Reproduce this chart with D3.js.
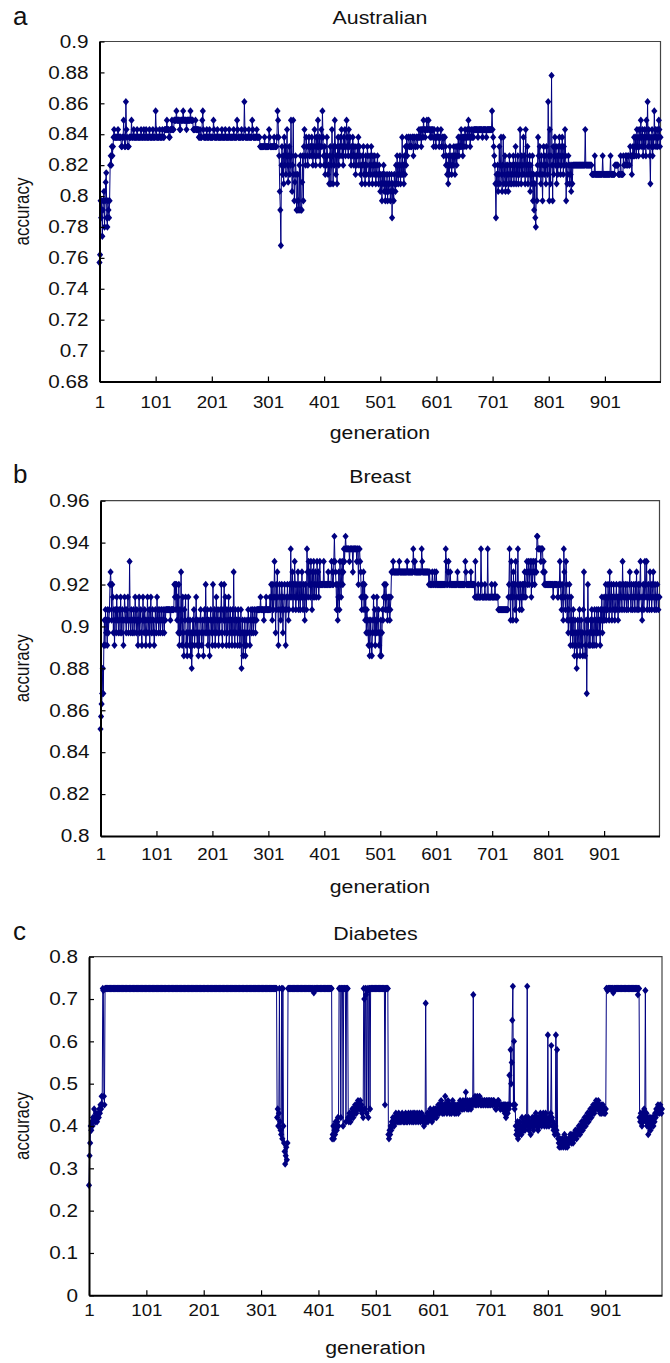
<!DOCTYPE html>
<html>
<head>
<meta charset="utf-8">
<script src="https://cdn.jsdelivr.net/npm/d3@7"></script>
<style>
  html, body { margin: 0; padding: 0; background: #fff; }
  svg { display: block; font-family: "Liberation Sans", Arial, sans-serif; }
</style>
</head>
<body>
<svg id="chart" width="670" height="1363"></svg>
<script>
// Generation axis: 1..1000, labelled every 100 generations.
const generationCount = 1000;
const generationTickValues = [1, 101, 201, 301, 401, 501, 601, 701, 801, 901];
const generationTickLabels = ["1", "101", "201", "301", "401", "501", "601", "701", "801", "901"];

// Accuracy tick values and labels for each dataset.
const australianTickValues = [0.68, 0.70, 0.72, 0.74, 0.76, 0.78, 0.80, 0.82, 0.84, 0.86, 0.88, 0.90];
const australianTickLabels = ["0.68", "0.7", "0.72", "0.74", "0.76", "0.78", "0.8", "0.82", "0.84", "0.86", "0.88", "0.9"];
const breastTickValues = [0.80, 0.82, 0.84, 0.86, 0.88, 0.90, 0.92, 0.94, 0.96];
const breastTickLabels = ["0.8", "0.82", "0.84", "0.86", "0.88", "0.9", "0.92", "0.94", "0.96"];
const diabetesTickValues = [0, 0.1, 0.2, 0.3, 0.4, 0.5, 0.6, 0.7, 0.8];
const diabetesTickLabels = ["0", "0.1", "0.2", "0.3", "0.4", "0.5", "0.6", "0.7", "0.8"];

// Best accuracy per generation, stored as steps: [first generation, accuracy].
// Each value holds until the next listed generation.
const australianSteps = [
[1,.757],[2,.762],[3,.797],[4,.786],[5,.797],[6,.774],[7,.791],[8,.797],[9,.803],[10,.780],[11,.797],[12,.809],[13,.815],[14,.786],[15,.780],[16,.797],[17,.791],[18,.786],[19,.797],[20,.820],[21,.826],[22,.820],[23,.832],[24,.826],[25,.832],[26,.838],[27,.843],[28,.838],
[34,.843],[35,.838],[40,.832],[42,.838],[44,.849],[45,.838],[46,.832],[48,.861],[49,.843],[50,.838],[51,.832],[54,.838],[58,.849],[59,.838],[62,.843],[63,.838],[68,.843],[69,.838],[75,.843],[76,.838],[80,.843],[81,.838],[84,.843],[85,.838],[90,.843],[91,.838],[96,.843],[97,.838],[101,.855],[102,.843],[103,.838],[108,.843],[109,.838],[113,.843],[114,.838],[117,.843],
[118,.843],[121,.849],[122,.843],[125,.838],[127,.843],[130,.849],[131,.843],[134,.849],[138,.855],[139,.849],[144,.843],[146,.849],[150,.855],[151,.849],[156,.843],[157,.849],[163,.855],[164,.849],[168,.843],[172,.849],[173,.843],[178,.838],[180,.843],[181,.838],[184,.849],[185,.855],[186,.843],[187,.838],
[192,.843],[193,.838],[197,.843],[198,.838],[204,.849],[205,.843],[206,.838],[211,.843],[212,.838],[219,.843],[220,.838],[225,.843],[226,.838],[232,.843],[233,.838],[240,.843],[241,.838],[246,.849],[247,.843],[248,.838],[254,.843],[255,.838],[259,.861],[260,.843],[261,.838],[267,.843],[268,.838],[273,.849],[274,.843],[275,.838],[281,.843],[282,.838],
[287,.832],[295,.838],[296,.832],[303,.843],[304,.838],[305,.832],[312,.838],[313,.832],
[317,.838],[318,.855],[319,.849],[320,.838],[321,.826],[322,.803],[323,.791],[324,.768],[325,.820],[326,.832],[327,.814],[328,.826],[329,.808],[330,.838],[331,.820],[332,.832],[333,.814],[334,.826],[335,.843],[336,.820],[337,.809],[338,.826],[339,.832],[340,.814],[341,.820],[342,.849],[343,.826],[344,.803],[345,.820],[346,.849],[347,.814],[348,.797],[349,.809],[350,.826],[351,.814],[352,.791],[353,.791],[354,.814],[355,.797],[356,.791],[357,.820],[358,.791],[359,.826],[360,.791],[362,.809],[363,.826],[364,.797],[365,.832],[366,.843],[367,.826],[368,.820],[369,.838],[370,.832],[371,.826],[372,.820],[373,.832],[374,.838],[375,.826],
[376,.832],[378,.826],[379,.838],[380,.832],[381,.820],[382,.832],[383,.826],[384,.843],[385,.832],[386,.820],[387,.838],[388,.826],[389,.832],[390,.849],[391,.832],[392,.826],[393,.838],[394,.820],[395,.832],[396,.843],[397,.832],[398,.855],[399,.838],[400,.826],[401,.820],[402,.832],[403,.814],[404,.826],[405,.820],[406,.838],[407,.826],[408,.814],[409,.820],[410,.808],[411,.826],[412,.832],[413,.808],[414,.820],[415,.843],[416,.826],[417,.808],[418,.832],[419,.820],[420,.849],[421,.832],[422,.814],[423,.826],[424,.808],[425,.832],[426,.838],[427,.820],[428,.832],[429,.826],[430,.838],[431,.832],[432,.843],[433,.826],[434,.832],[435,.820],[436,.838],[437,.832],[438,.843],[439,.826],[440,.832],[441,.849],[442,.838],[443,.832],[444,.826],[445,.843],[446,.832],[447,.838],[448,.826],[449,.820],[450,.832],[451,.826],[452,.838],[453,.832],[454,.820],[455,.826],[456,.832],[457,.814],[458,.826],[459,.820],[460,.832],[461,.826],[462,.838],[463,.820],[464,.832],[465,.826],[466,.814],[467,.820],[468,.808],[469,.826],[470,.820],[471,.832],[472,.814],[473,.820],[474,.808],[475,.826],[476,.814],[477,.820],[478,.832],[479,.826],[480,.814],[481,.808],[482,.820],[483,.826],[484,.814],[485,.832],[486,.820],[487,.808],[488,.826],[489,.820],[490,.814],[491,.826],[492,.820],[493,.808],[494,.814],[495,.820],[496,.826],[497,.814],[498,.808],[499,.820],[500,.814],[501,.803],[502,.814],[503,.808],[504,.797],[505,.814],[506,.808],[507,.820],[508,.803],[509,.814],[510,.797],[511,.808],[512,.803],[513,.814],[514,.797],[515,.808],[516,.803],[517,.814],[518,.808],[519,.797],[520,.803],[521,.814],[522,.786],[523,.808],[524,.803],[525,.797],[526,.814],[527,.808],[528,.803],[529,.820],[530,.808],[531,.826],[532,.814],[533,.808],[534,.820],[535,.814],[536,.826],[537,.808],[538,.820],[539,.814],[540,.838],[541,.814],[542,.820],[543,.808],[544,.826],[545,.814],[546,.832],[547,.820],[548,.838],[549,.826],[550,.832],
[551,.838],[553,.832],[555,.838],[556,.832],[558,.838],[560,.826],[561,.838],[563,.832],[565,.838],[567,.832],[568,.838],[570,.843],[571,.838],[573,.843],[574,.832],[575,.843],[577,.838],[578,.849],[579,.843],[581,.838],[582,.843],[584,.849],[585,.843],[587,.849],[588,.843],[590,.838],[591,.843],[593,.838],[594,.843],[596,.832],[597,.843],[598,.838],[600,.832],[601,.838],[603,.843],[604,.838],[606,.832],[607,.838],[609,.843],[610,.832],[612,.838],[614,.826],[615,.838],[617,.832],[618,.820],
[619,.826],[620,.814],[621,.820],[622,.808],[623,.826],[624,.814],[625,.832],[626,.820],[627,.826],[628,.814],[629,.820],[630,.826],[631,.820],[632,.832],[633,.826],[634,.814],[635,.826],[636,.832],[637,.820],[638,.826],[639,.832],[640,.838],[641,.826],[642,.832],[643,.838],[644,.832],[645,.843],[646,.832],[647,.838],[648,.826],[649,.838],[650,.832],[651,.838],[652,.843],[653,.838],[654,.832],[655,.838],[656,.843],[657,.838],[658,.849],[659,.838],[660,.843],[661,.832],[662,.838],[663,.843],[664,.838],[666,.843],[667,.838],[668,.843],
[675,.838],[676,.843],[683,.838],[684,.843],[690,.838],[691,.843],[700,.855],[701,.843],[702,.838],[703,.832],[704,.826],[705,.820],[706,.808],[707,.786],
[708,.814],[709,.808],[710,.820],[711,.803],[712,.814],[713,.832],[714,.808],[715,.820],[716,.838],[717,.814],[718,.803],[719,.820],[720,.838],[721,.808],[722,.814],[723,.826],[724,.803],[725,.820],[726,.808],[727,.814],[728,.820],[729,.803],[730,.814],[731,.826],[732,.808],[733,.820],[734,.814],[735,.808],[736,.820],[737,.814],[738,.826],[739,.808],[740,.820],[741,.814],[742,.832],[743,.808],[744,.820],[745,.814],[746,.826],[747,.808],[748,.820],[749,.814],[750,.843],
[751,.820],[752,.808],[753,.826],[754,.814],[755,.820],[756,.838],[757,.814],[758,.826],[759,.808],[760,.843],[761,.820],[762,.814],[763,.832],[764,.808],[765,.820],[766,.814],[767,.826],[768,.803],[769,.820],[770,.814],[771,.808],[772,.826],[773,.797],[774,.814],[775,.791],[776,.808],[777,.786],[778,.780],[779,.814],[780,.797],[781,.820],[782,.838],[783,.826],[784,.814],[785,.832],[786,.820],[787,.808],[788,.826],[789,.814],[790,.797],[791,.820],[792,.832],[793,.814],[794,.826],[795,.820],[796,.808],[797,.832],[798,.820],[799,.814],[800,.861],[801,.826],[802,.797],[803,.843],[804,.808],[805,.826],[806,.878],[807,.820],[808,.797],[809,.832],[810,.814],
[811,.826],[812,.838],[813,.820],[814,.832],[815,.808],[816,.826],[817,.814],[818,.832],[819,.820],[820,.838],[821,.826],[822,.814],[823,.832],[824,.820],[825,.838],[826,.826],[827,.814],[828,.832],[829,.820],[830,.843],[831,.826],[832,.797],[833,.820],[834,.808],[835,.814],[836,.826],[837,.820],[838,.808],[839,.820],[840,.814],[841,.803],[842,.820],[843,.808],[844,.820],
[866,.843],[867,.820],[878,.814],
[883,.826],[884,.814],[897,.826],[898,.814],[911,.826],[912,.814],[919,.820],[925,.814],[929,.826],[930,.814],[934,.826],[935,.820],[938,.826],[940,.820],[942,.826],[944,.820],[946,.832],[947,.826],[949,.814],[950,.826],[951,.832],[952,.826],[953,.838],[954,.826],[955,.832],[956,.838],[957,.826],[958,.843],[959,.832],[960,.838],[961,.826],[962,.843],[963,.832],[964,.838],[965,.849],[966,.838],[967,.832],[968,.843],[969,.826],[970,.838],[971,.832],[972,.843],[973,.838],[974,.826],[975,.849],[976,.838],[977,.861],[978,.832],[979,.843],[980,.838],[981,.826],[982,.808],[983,.838],[984,.832],[985,.843],[986,.826],[987,.838],[988,.832],[989,.855],[990,.838],[991,.843],[992,.832],[993,.838],[994,.843],[995,.832],[996,.838],[997,.849],[998,.843],[999,.832],[1000,.838]
];

const breastSteps = [
[1,.851],[2,.857],[3,.863],[4,.868],[5,.880],[6,.868],[7,.891],[8,.903],[9,.891],[10,.908],[11,.897],[12,.903],[13,.891],[14,.908],[15,.897],[16,.903],[17,.908],[18,.920],[19,.926],[20,.920],[21,.903],[22,.920],[23,.914],[24,.897],[25,.908],[26,.891],[27,.903],[28,.908],[29,.897],[30,.914],[31,.903],[32,.908],[33,.897],[34,.903],[35,.908],[36,.897],[37,.914],[38,.903],[39,.897],[40,.908],[41,.903],[42,.891],[43,.903],[44,.914],[45,.908],[46,.903],[47,.897],[48,.908],[49,.903],[50,.914],[51,.897],[52,.903],[53,.931],[54,.903],
[55,.897],[56,.908],[57,.903],[58,.897],[59,.903],[60,.908],[61,.897],[62,.903],[63,.914],[64,.903],[65,.897],[66,.908],[67,.903],[68,.891],[69,.903],[70,.914],[71,.897],[72,.903],[73,.908],[74,.897],[75,.891],[76,.903],[77,.914],[78,.903],[79,.897],[80,.908],[81,.903],[82,.891],[83,.897],[84,.903],[85,.914],[86,.897],[87,.903],[88,.908],[89,.891],[90,.903],[91,.914],[92,.897],[93,.903],[94,.908],[95,.897],[96,.903],[97,.891],[98,.897],[99,.908],[100,.903],[101,.897],[102,.914],[103,.903],[104,.908],[105,.897],[106,.903],[107,.908],[108,.897],[109,.903],[110,.908],[111,.903],[112,.897],[113,.908],[114,.903],[115,.897],[116,.908],[117,.903],[118,.908],
[126,.903],[127,.908],
[133,.920],[134,.914],[135,.920],[136,.908],[137,.920],[138,.903],[139,.914],[140,.897],[141,.920],[142,.891],[143,.908],[144,.897],[145,.926],[146,.903],
[147,.891],[148,.914],[149,.897],[150,.886],[151,.908],[152,.903],[153,.914],[154,.891],[155,.897],[156,.886],[157,.903],[158,.914],[159,.897],[160,.891],[161,.903],[162,.886],[163,.897],[164,.880],[165,.891],[166,.903],[167,.897],
[168,.908],[169,.891],[170,.897],[171,.903],[172,.914],[173,.897],[174,.891],[175,.903],[176,.886],[177,.897],[178,.891],[179,.903],[180,.908],[181,.897],[182,.891],[183,.903],[184,.897],[185,.886],[186,.903],[187,.908],[188,.897],[189,.920],[190,.903],[191,.897],[192,.908],[193,.891],[194,.903],[195,.897],[196,.886],[197,.903],
[198,.908],[199,.897],[200,.903],[201,.891],[202,.920],[203,.903],[204,.897],[205,.908],[206,.891],[207,.903],[208,.914],[209,.897],[210,.903],[211,.908],[212,.891],[213,.903],[214,.897],[215,.908],[216,.903],[217,.920],[218,.897],[219,.891],[220,.908],[221,.903],[222,.920],[223,.897],[224,.914],[225,.903],[226,.891],[227,.908],[228,.897],[229,.903],[230,.914],[231,.891],[232,.903],[233,.908],[234,.897],[235,.903],[236,.891],[237,.908],[238,.897],[239,.926],[240,.903],[241,.891],[242,.908],[243,.897],[244,.903],
[245,.903],[246,.891],[247,.908],[248,.897],[249,.903],[250,.891],[251,.897],[252,.908],[253,.880],[254,.897],[255,.903],[256,.886],[257,.897],[258,.891],[259,.903],[260,.886],[261,.897],[262,.891],
[263,.903],[264,.897],[265,.908],[266,.903],[267,.897],[268,.891],[269,.903],[270,.908],[271,.897],[272,.903],[273,.908],[274,.897],[275,.903],[276,.908],[277,.903],[278,.897],[279,.908],[280,.903],
[281,.908],[287,.914],[288,.908],[293,.903],[294,.908],[297,.914],[298,.908],
[304,.914],[305,.908],[306,.920],[307,.914],[308,.903],[309,.920],[310,.908],[311,.914],[312,.931],[313,.914],[314,.897],[315,.920],[316,.908],[317,.926],[318,.914],[319,.891],[320,.908],[321,.920],[322,.914],[323,.903],[324,.908],[325,.920],[326,.914],[327,.897],[328,.908],[329,.914],[330,.920],[331,.908],[332,.891],[333,.914],[334,.908],[335,.920],[336,.914],[337,.903],[338,.908],[339,.920],
[340,.914],[341,.937],[342,.920],[343,.914],[344,.926],[345,.908],[346,.920],[347,.914],[348,.931],[349,.920],[350,.908],[351,.914],[352,.920],[353,.914],[354,.926],[355,.908],[356,.920],[357,.914],[358,.908],[359,.920],[360,.914],[361,.926],[362,.914],[363,.908],[364,.920],[365,.914],[366,.903],[367,.920],[368,.914],[369,.908],[370,.937],[371,.926],[372,.914],[373,.931],[374,.920],[375,.926],
[376,.914],[377,.931],[378,.920],[379,.908],[380,.926],[381,.914],[382,.931],[383,.920],[384,.914],[385,.926],[386,.920],[387,.914],[388,.931],[389,.920],[390,.926],[391,.914],[392,.920],[393,.931],[394,.920],
[400,.931],[401,.920],[408,.926],[409,.920],[414,.931],[415,.926],[416,.920],[418,.931],[419,.943],[420,.931],[421,.926],[422,.920],
[423,.908],[424,.920],[425,.903],[426,.914],[427,.926],[428,.908],[429,.931],[430,.920],[431,.914],[432,.926],[433,.931],[434,.920],[435,.926],[436,.937],[437,.931],[438,.937],[439,.943],[440,.937],
[446,.931],[447,.937],[452,.926],[453,.937],[459,.931],[460,.937],[462,.920],[463,.937],[465,.931],
[466,.926],[467,.914],[468,.908],[469,.920],[470,.914],[471,.926],[472,.908],[473,.920],[474,.903],[475,.914],[476,.897],[477,.908],[478,.903],[479,.897],[480,.891],[481,.903],[482,.886],[483,.897],
[484,.903],[485,.891],[486,.886],[487,.897],[488,.903],[489,.914],[490,.897],[491,.908],[492,.891],[493,.903],[494,.897],[495,.914],[496,.903],[497,.897],[498,.908],[499,.891],[500,.897],[501,.886],[502,.903],[503,.886],[504,.897],[505,.908],[506,.903],[507,.914],[508,.920],[509,.914],[510,.908],[511,.920],[512,.914],[513,.908],[514,.903],[515,.914],[516,.908],[517,.914],[518,.903],[519,.908],[520,.914],
[521,.926],[524,.931],[525,.926],[535,.931],[536,.926],[549,.931],[550,.926],[560,.937],[561,.931],[562,.926],[563,.931],[564,.926],[575,.937],[576,.931],[577,.926],
[588,.920],[589,.926],[590,.920],[594,.926],[595,.920],[598,.926],[599,.920],[601,.926],[602,.920],[618,.937],[619,.931],[620,.920],[622,.926],[623,.931],[624,.920],[626,.926],[627,.920],[639,.926],[640,.920],[653,.931],[654,.926],[655,.920],[663,.926],[664,.920],
[670,.914],[671,.931],[672,.914],[676,.920],[677,.914],[681,.937],[682,.920],[683,.914],[688,.920],[689,.914],[693,.937],[694,.914],[700,.920],[701,.914],[706,.920],[707,.914],
[712,.908],[730,.914],
[731,.920],[732,.937],[733,.914],[734,.903],[735,.931],[736,.914],[737,.920],[738,.903],[739,.926],[740,.914],[741,.920],[742,.908],[743,.931],[744,.903],[745,.914],[746,.920],[747,.937],[748,.914],[749,.920],[750,.908],[751,.914],[752,.920],[753,.914],[754,.908],[755,.920],[756,.914],[757,.920],[758,.914],[759,.926],[760,.920],[761,.914],[762,.926],
[763,.931],[764,.920],[765,.926],[766,.931],[767,.920],[768,.926],[769,.931],[770,.926],[771,.914],[772,.931],[773,.920],[774,.926],[775,.931],[776,.926],[777,.920],[778,.931],[779,.926],[781,.943],[783,.937],[788,.931],[789,.937],[792,.926],[793,.931],[794,.920],[795,.926],
[796,.920],[810,.914],[811,.920],[818,.914],[820,.920],
[822,.931],[823,.920],[824,.914],[825,.908],[826,.920],[827,.914],[828,.903],[829,.937],[830,.926],[831,.914],[832,.908],[833,.931],[834,.920],[835,.903],[836,.914],[837,.897],[838,.908],[839,.920],[840,.903],[841,.891],[842,.914],[843,.897],[844,.903],[845,.891],[846,.908],
[847,.897],[848,.886],[849,.903],[850,.891],[851,.897],[852,.880],[853,.886],[854,.903],[855,.897],[856,.891],[857,.908],[858,.886],[859,.897],[860,.903],[861,.891],[862,.897],[863,.886],[864,.908],[865,.926],[866,.897],[867,.886],[868,.891],[869,.903],[870,.868],[871,.897],[872,.920],[873,.903],[874,.891],[875,.897],
[876,.891],[877,.903],[878,.897],[879,.908],[880,.891],[881,.903],[882,.897],[883,.891],[884,.908],[885,.897],[886,.903],[887,.891],[888,.908],[889,.897],[890,.903],[891,.908],[892,.897],[893,.903],[894,.891],[895,.908],[896,.903],[897,.914],[898,.897],[899,.908],[900,.903],
[901,.914],[902,.903],[903,.908],[904,.920],[905,.903],[906,.914],[907,.908],[908,.920],[909,.914],[910,.903],[911,.926],[912,.908],[913,.914],[914,.920],[915,.903],[916,.914],[917,.908],[918,.920],[919,.914],[920,.903],[921,.908],[922,.914],[923,.920],[924,.908],[925,.914],[926,.903],[927,.914],[928,.920],[929,.908],[930,.914],[931,.920],[932,.914],[933,.908],[934,.931],
[935,.914],[936,.920],[937,.908],[938,.914],[939,.920],[940,.914],[941,.908],[942,.920],[943,.914],[944,.908],[945,.914],[946,.920],[947,.926],[948,.914],[949,.908],[950,.920],[951,.914],[952,.908],[953,.914],[954,.920],[955,.914],[956,.908],[957,.920],[958,.914],[959,.926],[960,.908],[961,.914],[962,.920],[963,.908],[964,.914],[965,.920],[966,.931],[967,.914],[968,.908],[969,.903],[970,.914],[971,.920],[972,.908],[973,.914],[974,.931],[975,.920],[976,.914],[977,.931],[978,.908],[979,.914],[980,.920],[981,.914],[982,.908],[983,.926],[984,.914],[985,.920],[986,.908],[987,.914],[988,.920],[989,.926],[990,.914],[991,.908],[992,.920],[993,.914],[994,.908],[995,.914],[996,.920],[997,.914],[998,.908],[999,.914],[1000,.914]
];

const diabetesSteps = [
[1,.26],[2,.33],[3,.36],[4,.40],[5,.39],[6,.41],[7,.40],[8,.42],[9,.41],[10,.44],[11,.42],[12,.41],[13,.43],[14,.42],[15,.41],[16,.42],[17,.43],[18,.42],[19,.44],[20,.43],[21,.45],[22,.44],[23,.47],[24,.45],[25,.725],[26,.72],[27,.47],[28,.45],[29,.725],
[329,.42],[330,.44],[331,.40],[332,.43],[333,.725],[334,.41],[335,.39],[336,.38],[337,.725],[338,.37],[339,.725],[340,.40],[341,.36],[342,.34],[343,.31],[344,.33],[345,.35],[346,.32],[347,.36],[348,.725],
[393,.715],[394,.725],
[425,.37],[426,.38],[427,.40],[428,.37],[429,.39],[430,.38],[431,.41],[432,.40],[433,.39],[434,.41],[435,.42],[436,.40],[437,.725],[440,.42],[441,.725],[444,.40],[445,.725],[449,.41],[450,.725],[453,.42],
[454,.41],[455,.43],[456,.42],[457,.41],[458,.43],[459,.42],[460,.44],[461,.43],[462,.42],[463,.44],[464,.43],[465,.45],[466,.44],[467,.43],[468,.45],[469,.44],[470,.46],[471,.45],[472,.44],[473,.45],[474,.46],[475,.44],[476,.45],[477,.43],[478,.44],[479,.42],
[480,.725],[481,.70],[482,.44],[483,.725],[484,.71],[485,.43],[486,.725],[487,.72],[488,.42],[489,.725],[491,.44],[492,.725],[517,.45],[518,.725],
[523,.38],[524,.37],[525,.39],[526,.38],[527,.40],[528,.39],[529,.41],[530,.40],[531,.42],[532,.41],[533,.40],[534,.42],[535,.41],[536,.43],[537,.42],[538,.41],[539,.42],[540,.41],[541,.43],[542,.42],[543,.41],[544,.42],[545,.41],[546,.42],[547,.43],[548,.42],[549,.41],[550,.42],[551,.41],[552,.42],[553,.43],[554,.41],[555,.42],[556,.41],[557,.42],[558,.43],[559,.42],[560,.41],[561,.42],[562,.43],[563,.42],[564,.41],[565,.42],[566,.43],[567,.41],[568,.42],[569,.43],[570,.42],[571,.41],[572,.42],[573,.43],[574,.42],[575,.41],[576,.42],[577,.43],[578,.42],[579,.41],[580,.42],[581,.43],[582,.42],[583,.41],[584,.42],[585,.40],[586,.42],[587,.41],[588,.69],[589,.41],[590,.42],
[591,.43],[592,.41],[593,.42],[594,.43],[595,.42],[596,.44],[597,.42],[598,.43],[599,.41],[600,.43],[601,.42],[602,.44],[603,.43],[604,.42],[605,.44],[606,.43],[607,.42],[608,.44],[609,.43],[610,.45],[611,.44],[612,.43],[613,.45],[614,.44],[615,.46],[616,.44],[617,.43],[618,.45],[619,.44],[620,.43],[621,.45],[622,.47],[623,.44],[624,.45],[625,.43],[626,.44],[627,.46],[628,.44],[629,.45],[630,.43],[631,.44],[632,.45],[633,.43],[634,.44],[635,.46],[636,.45],[637,.44],[638,.43],[639,.45],[640,.44],[641,.43],[642,.44],[643,.45],[644,.44],[645,.43],[646,.45],[647,.44],[648,.46],[649,.45],[650,.44],
[651,.45],[652,.44],[653,.46],[654,.45],[655,.44],[656,.45],[657,.46],[658,.48],[659,.45],[660,.44],[661,.46],[662,.45],[663,.44],[664,.45],[665,.46],[666,.45],[667,.44],[668,.46],[669,.45],[670,.46],[671,.71],[672,.45],[673,.46],[674,.47],[675,.45],[676,.46],[677,.45],[678,.47],[679,.46],[680,.45],[681,.46],[682,.47],[683,.46],[684,.45],[686,.46],[688,.45],[690,.46],[692,.45],[694,.46],[696,.45],[698,.46],[700,.45],[702,.46],[704,.45],[706,.46],[708,.45],[710,.44],[712,.45],[714,.46],[716,.45],[718,.44],[720,.45],
[722,.44],[724,.45],[726,.43],[727,.45],[728,.42],[729,.44],[730,.45],[731,.43],[732,.45],[733,.44],[734,.52],[735,.45],[736,.58],[737,.50],[738,.55],[739,.65],[740,.73],[741,.45],[742,.60],[743,.44],[744,.45],
[745,.40],[746,.38],[747,.39],[748,.41],[749,.37],[750,.40],[751,.38],[752,.41],[753,.39],[754,.40],[755,.38],[756,.42],[757,.40],[758,.39],[759,.41],[760,.40],[761,.39],[762,.42],[763,.40],[764,.41],[765,.73],[766,.40],[767,.42],[768,.39],[769,.41],[770,.40],[771,.38],[772,.41],[773,.40],[774,.42],[775,.41],[776,.39],[777,.42],[778,.40],[779,.41],[780,.43],[781,.40],[782,.42],[783,.41],[784,.39],[785,.42],[786,.40],[787,.41],[788,.43],[789,.41],[790,.40],[791,.42],[792,.41],[793,.43],[794,.42],[795,.40],[796,.41],[797,.43],[798,.42],[799,.40],[800,.41],
[801,.615],[802,.41],[803,.40],[804,.42],[805,.41],[806,.43],[807,.59],[808,.42],[809,.40],[810,.41],[811,.39],[812,.40],[813,.38],[814,.40],[815,.615],[816,.39],[817,.58],[818,.38],[819,.37],[820,.36],
[821,.35],[822,.37],[823,.36],[824,.35],[825,.36],[826,.37],[827,.36],[828,.35],[829,.36],[830,.38],[831,.36],[832,.35],[833,.37],[834,.36],[835,.35],[836,.36],[837,.37],[838,.36],[839,.37],[840,.38],[841,.37],[842,.36],[843,.38],[844,.37],[845,.36],[846,.38],[847,.37],[848,.38],[849,.39],[850,.38],[851,.37],[852,.39],[853,.38],
[854,.39],[855,.40],[856,.39],[857,.38],[858,.40],[859,.39],[860,.41],[861,.40],[862,.39],[863,.41],[864,.40],[865,.42],[866,.41],[867,.40],[868,.42],[869,.41],[870,.43],[871,.42],[872,.41],[873,.43],[874,.42],[875,.44],[876,.43],[877,.42],[878,.44],[879,.43],[880,.45],[881,.44],[882,.43],[883,.45],[884,.44],[885,.46],[886,.45],[887,.44],[888,.45],[889,.46],[890,.44],[891,.45],[892,.43],[893,.44],[894,.45],[895,.43],[896,.44],[897,.45],[898,.44],[899,.43],[900,.44],[901,.43],[902,.44],
[903,.725],[905,.72],[906,.725],[915,.715],[916,.725],[958,.71],[959,.725],
[961,.42],[962,.41],[963,.43],[964,.42],[965,.40],[966,.43],[967,.41],[968,.42],[969,.44],[970,.42],[971,.72],[972,.41],[973,.43],[974,.40],[975,.42],[976,.38],[977,.41],[978,.40],[979,.42],[980,.39],[981,.41],[982,.40],[983,.42],[984,.41],[985,.40],[986,.42],[987,.41],[988,.43],[989,.42],[990,.44],[991,.43],[992,.44],[993,.45],[994,.44],[995,.43],[996,.44],[997,.45],[998,.44],[999,.43],[1000,.44]
];

// Turn a step list into one point per generation.
function expandSteps(steps) {
  const sorted = steps.slice().sort((a, b) => a[0] - b[0]);
  const points = [];
  let j = 0;
  for (let g = 1; g <= generationCount; g++) {
    while (j + 1 < sorted.length && sorted[j + 1][0] <= g) j++;
    points.push({ generation: g, accuracy: sorted[j][1] });
  }
  return points;
}

const panels = [
  { letter: "a", title: "Australian", steps: australianSteps,
    tickValues: australianTickValues, tickLabels: australianTickLabels,
    left: 99.5, right: 660.5, top: 41.5, bottom: 381.5,
    letterY: 25, titleY: 24, xLabelY: 408, xTitleY: 439 },
  { letter: "b", title: "Breast", steps: breastSteps,
    tickValues: breastTickValues, tickLabels: breastTickLabels,
    left: 100.5, right: 659.5, top: 500.7, bottom: 836,
    letterY: 483, titleY: 483, xLabelY: 860, xTitleY: 893 },
  { letter: "c", title: "Diabetes", steps: diabetesSteps,
    tickValues: diabetesTickValues, tickLabels: diabetesTickLabels,
    left: 89, right: 662, top: 956.7, bottom: 1295.3,
    letterY: 940, titleY: 940, xLabelY: 1316, xTitleY: 1354 }
];

const markColor = "#000080";
const textColor = "#111";
const svg = d3.select("#chart");
svg.append("rect").attr("width", 670).attr("height", 1363).attr("fill", "#fff");

// The lettering is set slightly wide: stretch each label horizontally.
function widen(node, factor) {
  const w = node.getComputedTextLength();
  d3.select(node).attr("textLength", (w * factor).toFixed(2)).attr("lengthAdjust", "spacingAndGlyphs");
}

// Diamond marker, slightly taller than wide.
const diamond = "M0,-3.7L3.1,0L0,3.7L-3.1,0Z";

panels.forEach(p => {
  const data = expandSteps(p.steps);
  const x = d3.scaleLinear().domain([1, generationCount]).range([p.left, p.right]);
  const y = d3.scaleLinear()
    .domain([p.tickValues[0], p.tickValues[p.tickValues.length - 1]])
    .range([p.bottom, p.top]);
  const g = svg.append("g");

  // Frame: thin top and right edges.
  g.append("path")
    .attr("d", `M${p.left},${p.top}H${p.right}V${p.bottom}`)
    .attr("fill", "none").attr("stroke", "#444").attr("stroke-width", 1.2);

  // Series line and markers.
  const clip = "clip-" + p.letter;
  g.append("clipPath").attr("id", clip).append("rect")
    .attr("x", p.left - 5).attr("y", p.top - 1)
    .attr("width", p.right - p.left + 10).attr("height", p.bottom - p.top + 2);
  const series = g.append("g").attr("clip-path", `url(#${clip})`);
  series.append("path")
    .datum(data)
    .attr("fill", "none")
    .attr("stroke", markColor)
    .attr("stroke-width", 1)
    .attr("d", d3.line().x(d => x(d.generation)).y(d => y(d.accuracy)));
  series.selectAll("path.mark")
    .data(data)
    .join("path")
    .attr("class", "mark")
    .attr("d", diamond)
    .attr("transform", d => `translate(${x(d.generation)},${y(d.accuracy)})`)
    .attr("fill", markColor);

  // Y axis with inward ticks.
  const yAxis = d3.axisLeft(y)
    .tickValues(p.tickValues)
    .tickFormat((d, i) => p.tickLabels[i])
    .tickSizeInner(-5).tickSizeOuter(0).tickPadding(11);
  const ya = g.append("g").attr("transform", `translate(${p.left},0)`).call(yAxis);
  ya.select(".domain").attr("stroke", "#000").attr("stroke-width", 2);
  ya.selectAll(".tick line").attr("stroke", "#000").attr("stroke-width", 1.2);
  ya.selectAll(".tick text")
    .attr("font-family", "Liberation Sans, Arial, sans-serif")
    .attr("font-size", 18).attr("fill", textColor)
    .each(function () { widen(this, 1.15); });

  // X axis with inward ticks.
  const xAxis = d3.axisBottom(x)
    .tickValues(generationTickValues)
    .tickFormat((d, i) => generationTickLabels[i])
    .tickSizeInner(-5).tickSizeOuter(0);
  const xa = g.append("g").attr("transform", `translate(0,${p.bottom})`).call(xAxis);
  xa.select(".domain").attr("stroke", "#000").attr("stroke-width", 2);
  xa.selectAll(".tick line").attr("stroke", "#000").attr("stroke-width", 1.2);
  xa.selectAll(".tick text")
    .attr("y", null).attr("dy", null)
    .attr("transform", `translate(0,${p.xLabelY - p.bottom})`)
    .attr("font-family", "Liberation Sans, Arial, sans-serif")
    .attr("font-size", 17).attr("fill", textColor)
    .each(function () { widen(this, 1.1); });

  // Titles and labels.
  const cx = (p.left + p.right) / 2;
  g.append("text").attr("x", 13).attr("y", p.letterY)
    .attr("font-size", 26).attr("fill", textColor).text(p.letter);
  g.append("text").attr("x", cx).attr("y", p.titleY)
    .attr("text-anchor", "middle").attr("font-size", 17.5).attr("fill", textColor).text(p.title)
    .each(function () { widen(this, 1.22); });
  g.append("text").attr("x", cx).attr("y", p.xTitleY)
    .attr("text-anchor", "middle").attr("font-size", 18).attr("fill", textColor).text("generation")
    .each(function () { widen(this, 1.18); });
  // Rotated axis title; its glyphs are widened across the page like the other labels.
  g.append("text")
    .attr("transform", `translate(29,${(p.top + p.bottom) / 2}) rotate(-90) scale(1,1.18)`)
    .attr("text-anchor", "middle").attr("font-size", 17).attr("fill", textColor).text("accuracy");
});
</script>
</body>
</html>
